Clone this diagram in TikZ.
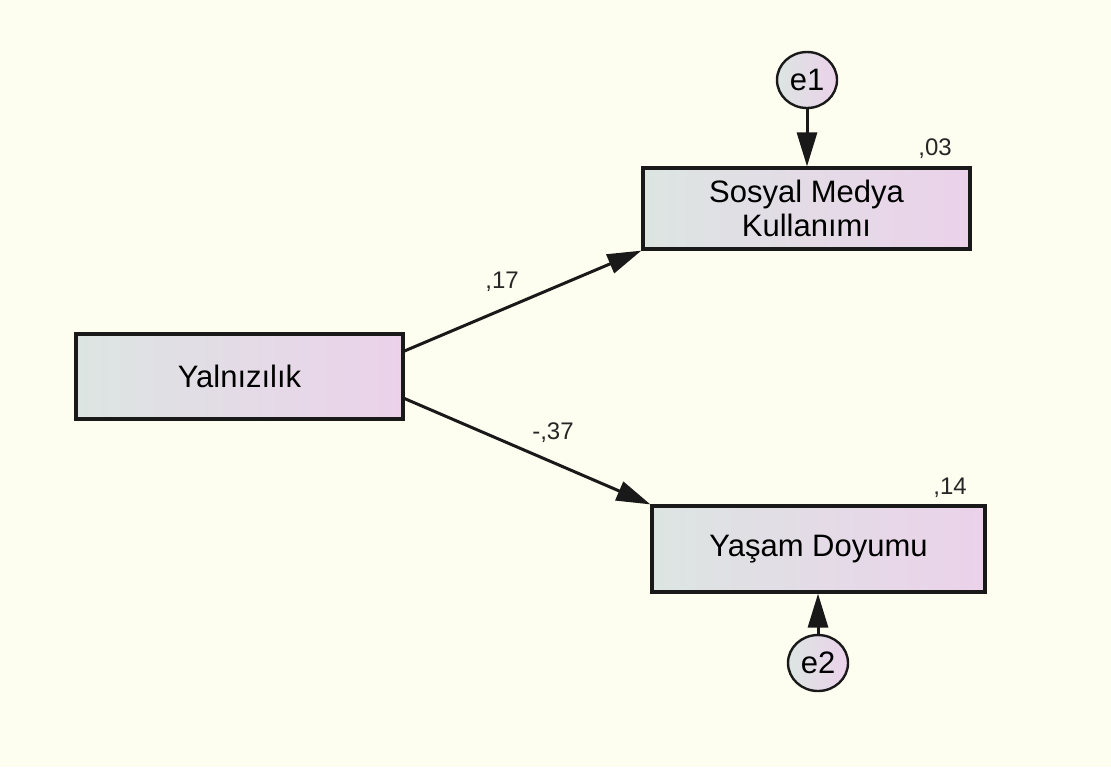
\documentclass[tikz,border=0pt]{standalone}
\usepackage{fontspec}
\setmainfont{Liberation Sans}
\usetikzlibrary{arrows.meta,calc,shapes.geometric}
\definecolor{bg}{HTML}{FEFEF0}
\definecolor{gl}{HTML}{DCE5E2}
\definecolor{gr}{HTML}{EBD2EA}
\begin{document}
\begin{tikzpicture}[x=0.5pt,y=-0.5pt,
  var/.style={draw=black!90, line width=1.6pt, left color=gl, right color=gr, align=center, inner sep=0pt, font=\fontsize{15.5}{17}\selectfont},
  err/.style={ellipse, draw=black!90, line width=1.2pt, left color=gl, right color=gr, inner sep=0pt, minimum width=30pt, minimum height=28pt, font=\fontsize{15.5}{17}\selectfont},
  pathar/.style={line width=1.5pt, draw=black!90, -{Triangle[length=17pt,width=10pt]}},
  est/.style={font=\fontsize{12}{14}\selectfont, inner sep=0pt, text=black!85}]
\fill[bg] (0,0) rectangle (1111,767);
\useasboundingbox (0,0) rectangle (1111,767);
\node[var, minimum width=163.5pt, minimum height=42.5pt] (Y) at (239.5,376.5) {Yalnızılık};
\node[var, minimum width=163.5pt, minimum height=40.5pt] (S) at (806.5,208.5) {Sosyal Medya\\Kullanımı};
\node[var, minimum width=166.5pt, minimum height=43pt] (D) at (818.5,549) {Yaşam Doyumu};
\node[err] (e1) at (807,80) {e1};
\node[err] (e2) at (818,663) {e2};
\draw[pathar] ($(Y.north east)!0.21!(Y.south east)$) -- (S.south west);
\draw[pathar] ($(Y.north east)!0.75!(Y.south east)$) -- (D.north west);
\draw[pathar] (e1.south) -- (e1 |- S.north);
\draw[pathar] (e2.north) -- (e2 |- D.south);
\node[est] (l03) at (935,149) {,03};
\node[est] (l14) at (950,488) {,14};
\node[est] (l17) at (502,282) {,17};
\node[est] (l37) at (553,433) {-,37};
\end{tikzpicture}
\end{document}
